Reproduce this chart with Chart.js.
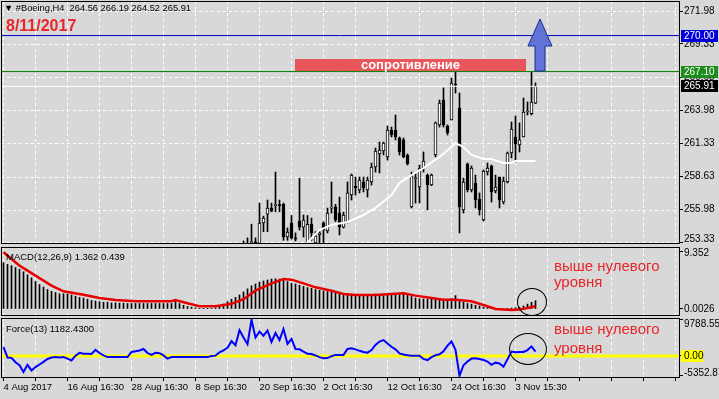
<!DOCTYPE html>
<html>
<head>
<meta charset="utf-8">
<script src="https://cdn.jsdelivr.net/npm/chart.js@4.4.1/dist/chart.umd.min.js"></script>
<style>
  html, body { margin: 0; padding: 0; background: #d8d8d8; }
  #wrap { position: relative; width: 719px; height: 399px; overflow: hidden; background: #d8d8d8;
          font-family: "Liberation Sans", Arial, sans-serif; }
  canvas { position: absolute; left: 0; }
  .t { position: absolute; white-space: pre; line-height: 1; color: #000; }
  .red { color: #e8262b; }
  .note { position: absolute; color: #e8262b; font-size: 15px; white-space: pre; }
  .ring { position: absolute; box-sizing: border-box; border: 1px solid #000; border-radius: 50%; }
  #res { position: absolute; left: 295px; top: 59px; width: 231px; height: 12px; background: #e8565c;
         color: #fff; font-weight: bold; font-size: 13px; line-height: 12px; text-align: center; }
</style>
</head>
<body>
<div id="wrap">
  <canvas id="cMain" width="719" height="246" style="top:0"></canvas>
  <canvas id="cMacd" width="719" height="73" style="top:245px"></canvas>
  <canvas id="cForce" width="719" height="82" style="top:317px"></canvas>

  <div class="t" style="left:4px;top:4px;font-size:9.3px">▼ #Boeing,H4  264.56 266.19 264.52 265.91</div>
  <div class="t red" style="left:6px;top:18px;font-size:16px;font-weight:bold">8/11/2017</div>
  <div id="res">сопротивление</div>
  <svg width="719" height="399" style="position:absolute;left:0;top:0">
    <polygon points="540,19 528,46 535,46 535,71 545,71 545,46 552,46" fill="#6172d8" stroke="#1f2d8c" stroke-width="1"/>
  </svg>

  <div class="t" style="left:6px;top:252px;font-size:9.5px">MACD(12,26,9) 1.362 0.439</div>
  <div class="note" style="left:554px;top:258px;line-height:16px">выше нулевого
уровня</div>
  <div class="ring" style="left:517px;top:288px;width:30px;height:28px"></div>

  <div class="t" style="left:6px;top:324px;font-size:9.5px">Force(13) 1182.4300</div>
  <div class="note" style="left:554px;top:319px;line-height:19px">выше нулевого
уровня</div>
  <div class="ring" style="left:509px;top:333px;width:38px;height:32px"></div>
</div>

<script>
// ---- data (bar index 0 = 4 Aug 2017, 2 bars per day) ----
const xTickLabels = ['4 Aug 2017', '16 Aug 16:30', '28 Aug 16:30', '8 Sep 16:30', '20 Sep 16:30',
                     '2 Oct 16:30', '12 Oct 16:30', '24 Oct 16:30', '3 Nov 15:30'];

// candles visible in the price window start at bar 60 (earlier ones sit below 253.2)
const candleFirstBar = 60;
const candleOpen = [253.05, 253.20, 253.30, 253.35, 253.25, 254.90, 255.60, 256.10, 256.30, 256.35,
  256.40, 253.77, 254.90, 253.70, 255.06, 254.57, 253.30, 254.80, 253.30, 253.95,
  254.90, 254.25, 256.10, 256.20, 255.70, 254.57, 254.98, 257.15, 257.85, 257.56,
  258.20, 257.56, 258.20, 259.41, 260.46, 260.70, 260.22, 262.39, 262.39, 261.75,
  261.59, 260.38, 256.19, 258.45, 257.80, 259.33, 258.76, 257.96, 260.38, 262.80,
  264.81, 262.71, 263.20, 266.10, 264.16, 255.95, 259.65, 257.56, 258.12, 256.83,
  255.14, 259.01, 259.49, 257.48, 258.60, 256.59, 258.20, 260.54, 261.83, 261.18,
  261.83, 263.84, 263.70, 264.56];
const candleHigh = [253.45, 253.70, 254.80, 253.70, 256.50, 255.45, 256.75, 256.50, 259.00, 256.75,
  256.50, 254.50, 255.50, 254.10, 258.50, 255.54, 255.50, 255.30, 254.20, 254.25,
  255.00, 256.10, 258.20, 256.40, 256.99, 255.78, 258.20, 258.85, 258.60, 258.60,
  258.60, 258.60, 259.73, 260.94, 261.42, 261.42, 262.71, 262.63, 263.60, 261.83,
  261.75, 260.46, 259.00, 258.93, 259.57, 260.62, 258.85, 258.85, 263.04, 264.81,
  265.78, 262.80, 266.58, 267.06, 265.37, 258.52, 259.73, 259.49, 258.76, 257.32,
  259.17, 259.73, 259.57, 258.76, 258.60, 258.60, 260.62, 263.04, 263.52, 262.96,
  264.97, 264.65, 267.06, 266.19];
const candleLow = [252.70, 252.90, 252.90, 253.00, 252.90, 254.20, 254.20, 255.80, 255.80, 255.80,
  253.50, 253.50, 253.60, 253.45, 254.33, 253.77, 253.20, 253.50, 253.20, 253.30,
  253.30, 254.10, 255.70, 255.00, 253.93, 254.49, 254.90, 256.75, 257.15, 257.32,
  257.40, 256.99, 257.96, 259.00, 258.93, 260.38, 259.97, 261.83, 261.59, 260.38,
  260.14, 259.57, 256.11, 256.50, 256.51, 259.01, 255.95, 257.90, 260.22, 262.63,
  262.63, 261.99, 263.20, 265.37, 254.09, 255.70, 257.40, 257.40, 256.11, 255.54,
  255.06, 258.76, 256.59, 257.32, 256.11, 256.43, 258.12, 260.14, 259.81, 260.62,
  261.83, 263.60, 263.60, 264.52];
const candleClose = [253.15, 253.10, 253.40, 253.30, 254.90, 255.30, 256.10, 255.85, 256.35, 256.30,
  253.77, 254.17, 253.70, 253.60, 254.57, 255.14, 254.80, 254.10, 253.85, 254.10,
  254.33, 255.70, 256.15, 255.14, 254.57, 255.54, 257.32, 258.76, 257.75, 258.36,
  257.72, 258.36, 259.41, 260.70, 260.78, 261.34, 262.39, 261.99, 261.83, 260.62,
  260.22, 259.65, 258.70, 258.55, 259.33, 259.89, 257.96, 258.76, 262.96, 264.57,
  262.80, 262.15, 266.18, 266.02, 256.19, 258.20, 257.56, 259.33, 256.75, 255.95,
  259.09, 259.33, 257.40, 257.80, 256.75, 258.28, 260.54, 262.47, 261.26, 261.59,
  263.84, 263.90, 264.65, 265.91];

// white moving average, read at the bars where it bends
const maBars   = [75, 79, 82, 86, 90, 93, 97, 99, 102, 105, 109, 112, 113, 115, 117, 120, 122, 125, 127, 128, 133];
const maValues = [253.0, 254.33, 254.74, 254.98, 255.54, 256.11, 257.15, 258.12, 258.76, 259.33, 260.22,
                  261.02, 261.34, 261.02, 260.38, 260.05, 260.05, 259.73, 259.73, 259.89, 259.89];

const priceTicks = [253.33, 255.98, 258.63, 261.33, 263.98, 266.65, 269.33, 271.98];
const targetLevel = 270.00;
const resistanceLevel = 267.10;
const lastPrice = 265.91;

// MACD(12,26,9): histogram per bar and signal line
const macdHist = [7.6, 7.3, 7.1, 6.8, 6.5, 6.1, 5.6, 5.1, 4.5, 4.0,
  3.6, 3.2, 2.9, 2.7, 2.5, 2.5, 2.45, 2.3, 2.1, 1.9,
  1.8, 1.6, 1.4, 1.3, 1.2, 1.1, 1.1, 1.0, 1.0, 0.95,
  0.95, 0.9, 0.9, 0.9, 0.9, 0.9, 0.9, 0.9, 0.9, 0.9, 0.9,
  0.9, 0.9, 1.4, 0.9, 0.6, 0.4, 0.3, 0.2, 0.1, 0.05,
  0.05, 0.1, 0.2, 0.5, 0.8, 1.2, 1.6, 1.9, 2.3, 2.8,
  3.3, 3.8, 4.1, 4.4, 4.6, 4.75, 4.9, 4.95, 4.9, 4.7,
  4.5, 4.2, 4.1, 3.9, 3.7, 3.5, 3.4, 3.2, 3.05, 2.95,
  2.85, 2.73, 2.6, 2.55, 2.5, 2.45, 2.4, 2.4, 2.35, 2.4,
  2.4, 2.4, 2.45, 2.4, 2.4, 2.45, 2.45, 2.55, 2.5, 2.45,
  2.3, 2.05, 1.8, 1.65, 1.64, 1.64, 1.6, 1.6, 1.6, 1.6,
  1.6, 1.7, 2.2, 1.5, 1.1, 0.9, 0.8, 0.6, 0.5, 0.3,
  0.2, 0.1, 0.05, 0.0, 0.0, 0.05, 0.15, 0.2, 0.3, 0.5,
  0.8, 1.1, 1.362];
const signalBars   = [0, 4, 8, 12, 15, 20, 24, 28, 33, 42, 43, 46, 49, 53, 57, 60, 63, 67, 70, 72,
                      75, 78, 82, 85, 88, 93, 97, 100, 103, 107, 110, 113, 117, 120, 123, 127, 129, 131, 133];
const signalValues = [9.3, 7.1, 5.46, 3.83, 2.9, 2.35, 1.8, 1.48, 1.26, 1.26, 1.48, 0.93, 0.44, 0.44, 0.85,
                      1.6, 3.0, 4.2, 4.92, 4.81, 4.2, 3.55, 3.0, 2.46, 2.3, 2.3, 2.46, 2.57, 2.19, 1.8,
                      1.53, 1.53, 1.26, 0.66, 0.0, -0.16, -0.1, 0.16, 0.44];
const macdTicks = [0, 9.352];
const macdTickText = ['0.0026', '9.352'];

// Force(13) per bar
const forceValues = [2400, -400, -500, -1700, -2500, -4300, -2400, -3900, -3000, -2300,
  -1600, -800, -400, -300, -400, -300, -700, -1200, 100, 850,
  600, 600, 550, 1650, 800, 150, -300, -300, -300, -300,
  -300, -300, 1100, 1300, 1500, 1900, 800, 300, 850, 750,
  150, -700, -300, -300, -300, -300, -300, -300, -300, -300, -300,
  -300, 0, 100, 1000, 1500, 2200, 4000, 2900, 7000, 5000,
  3200, 9788, 5000, 6600, 5500, 6900, 3800, 6200, 4300, 7300,
  3300, 4600, 1900, 1800, 1200, 600, 550, 150, -300, -600,
  -550, -50, 300, 300, 300, 1900, 2100, 1800, 1400, 1100,
  900, 1600, 3000, 3900, 4300, 3400, 2500, 1800, 700, 400,
  200, 100, 100, 100, -800, -1100, -300, 200, 450, 1300,
  2800, 3900, 1700, -5353, -2500, -1500, -700, -600, -800, -1100,
  -1500, -2400, -1800, -2000, -2900, -900, 1200, 1000, 1100, 1100,
  1600, 2600, 1182.43];
const forceLevel = 0;
const forceTicks = [-5352.87, 0, 9788.555];
const forceTickText = ['-5352.87', '0.00', '9788.555'];

// ---- layout ----
const X_MIN = -0.625, X_MAX = 169.125;   // 4 px per bar
const gridBars = [];
for (let k = 0; k * 8 <= X_MAX; k++) gridBars.push(k * 8);
const FONT = '"Liberation Sans", Arial, sans-serif';

// dashed white grid like the terminal draws it
const dashGrid = {
  id: 'dashGrid',
  beforeDatasetsDraw(chart, args, o) {
    const { ctx, chartArea: a } = chart;
    const { x, y } = chart.scales;
    ctx.save();
    ctx.strokeStyle = '#ffffff';
    ctx.lineWidth = 1;
    ctx.setLineDash([3, 3]);
    ctx.beginPath();
    gridBars.forEach(b => {
      const px = Math.floor(x.getPixelForValue(b)) + 0.5;
      ctx.moveTo(px, a.top);
      ctx.lineTo(px, a.bottom);
    });
    (o.rows || []).forEach(v => {
      const py = Math.round(y.getPixelForValue(v)) + 0.5;
      ctx.moveTo(a.left, py);
      ctx.lineTo(a.right, py);
    });
    ctx.stroke();
    ctx.restore();
  }
};

// right-hand price labels, boxes and the black panel frame
const mt4Axis = {
  id: 'mt4Axis',
  afterDraw(chart, args, o) {
    const { ctx, chartArea: a } = chart;
    const y = chart.scales.y;
    ctx.save();
    ctx.strokeStyle = '#000';
    ctx.lineWidth = 1;
    ctx.strokeRect(a.left + 0.5, a.top + 0.5, a.right - a.left - 1, a.bottom - a.top - 1);
    ctx.font = '10px ' + FONT;
    ctx.textBaseline = 'middle';
    ctx.fillStyle = '#000';
    o.values.forEach((v, k) => {
      const py = Math.min(Math.max(y.getPixelForValue(v), a.top + 6), a.bottom - 5);
      ctx.fillText(o.texts[k], a.right + 4, py);
    });
    (o.boxes || []).forEach(b => {
      const py = Math.round(y.getPixelForValue(b.value));
      ctx.fillStyle = b.bg;
      ctx.fillRect(a.right + 1, py - 6, b.width, 12);
      ctx.fillStyle = b.fg;
      ctx.fillText(b.text, a.right + 4, py + 0.5);
    });
    ctx.restore();
  }
};

function timeAxis(withLabels) {
  return {
    type: 'linear', min: X_MIN, max: X_MAX, offset: false,
    afterBuildTicks: s => { s.ticks = gridBars.map(v => ({ value: v })); },
    afterFit: s => { s.height = withLabels ? 21 : 0; },
    grid: { drawOnChartArea: false, drawTicks: withLabels, tickLength: 3, tickColor: '#000', tickBorderDash: [] },
    border: { display: false },
    ticks: {
      display: withLabels, autoSkip: false, maxRotation: 0, minRotation: 0, align: 'start', padding: 1,
      color: '#000', font: { family: 'Liberation Sans', size: 9.5 },
      callback: (v, idx) => (idx % 2 === 0 && xTickLabels[idx / 2]) || ''
    }
  };
}

function valueAxis(min, max, ticks) {
  return {
    position: 'right', min, max,
    afterBuildTicks: s => { s.ticks = ticks.map(v => ({ value: v })); },
    afterFit: s => { s.width = 39; },
    grid: { drawOnChartArea: false, tickLength: 3, tickColor: '#000', tickBorderDash: [] },
    border: { display: false },
    ticks: { display: false }
  };
}

const baseOptions = padding => ({
  responsive: false, animation: false, events: [],
  layout: { padding }
});

const flat = v => [{ x: X_MIN, y: v }, { x: X_MAX, y: v }];
const lineStyle = (color, width, order) => ({ type: 'line', borderColor: color, borderWidth: width,
  pointRadius: 0, order, clip: 0 });

// ---- price panel ----
const candleBars = candleOpen.map((o, k) => candleFirstBar + k);
new Chart(document.getElementById('cMain'), {
  type: 'bar',
  data: {
    datasets: [
      { ...lineStyle('#ffffff', 1, 0), data: flat(lastPrice) },
      { ...lineStyle('#0000d0', 1, 0), data: flat(targetLevel) },
      { ...lineStyle('#008000', 1, 0), data: flat(resistanceLevel) },
      { ...lineStyle('#ffffff', 2, 1), data: maBars.map((b, k) => ({ x: b, y: maValues[k] })) },
      {
        data: candleBars.map((b, k) => ({ x: b, y: [candleOpen[k], candleClose[k]] })),
        backgroundColor: candleOpen.map((o, k) => candleClose[k] >= o ? '#ffffff' : '#000000'),
        borderColor: '#000', borderWidth: 1, borderSkipped: false, barThickness: 3, minBarLength: 1,
        grouped: false, order: 2, clip: 0
      },
      {
        data: candleBars.map((b, k) => ({ x: b, y: [candleLow[k], candleHigh[k]] })),
        backgroundColor: '#000', barThickness: 1, grouped: false, order: 3, clip: 0
      }
    ]
  },
  options: {
    ...baseOptions({ top: 1, bottom: 2, left: 1, right: 0 }),
    scales: { x: timeAxis(false), y: valueAxis(253.205, 272.786, priceTicks) },
    plugins: {
      legend: { display: false }, tooltip: { enabled: false },
      dashGrid: { rows: priceTicks },
      mt4Axis: {
        values: priceTicks, texts: priceTicks.map(v => v.toFixed(2)),
        boxes: [
          { value: targetLevel, text: targetLevel.toFixed(2), bg: '#0000dd', fg: '#fff', width: 37 },
          { value: resistanceLevel, text: resistanceLevel.toFixed(2), bg: '#1c8c1c', fg: '#fff', width: 37 },
          { value: lastPrice, text: lastPrice.toFixed(2), bg: '#000', fg: '#fff', width: 37 }
        ]
      }
    }
  },
  plugins: [dashGrid, mt4Axis]
});

// ---- MACD panel ----
new Chart(document.getElementById('cMacd'), {
  type: 'bar',
  data: {
    datasets: [
      { ...lineStyle('#e60000', 2.5, 0), data: signalBars.map((b, k) => ({ x: b, y: signalValues[k] })) },
      {
        data: macdHist.map((v, i) => ({ x: i, y: v })),
        backgroundColor: '#000', barThickness: 1, grouped: false, order: 1, clip: 0
      }
    ]
  },
  options: {
    ...baseOptions({ top: 2, bottom: 2, left: 1, right: 0 }),
    scales: { x: timeAxis(false), y: valueAxis(-1.148, 10.16, macdTicks) },
    plugins: {
      legend: { display: false }, tooltip: { enabled: false },
      dashGrid: { rows: [] },
      mt4Axis: { values: macdTicks, texts: macdTickText }
    }
  },
  plugins: [dashGrid, mt4Axis]
});

// ---- Force panel ----
new Chart(document.getElementById('cForce'), {
  type: 'line',
  data: {
    datasets: [
      { ...lineStyle('#0000ff', 2, 0), data: forceValues.map((v, i) => ({ x: i, y: v })) },
      { ...lineStyle('#ffff00', 3, 1), data: flat(forceLevel) }
    ]
  },
  options: {
    ...baseOptions({ top: 1, bottom: 0, left: 1, right: 0 }),
    scales: { x: timeAxis(true), y: valueAxis(-5949, 10275, forceTicks) },
    plugins: {
      legend: { display: false }, tooltip: { enabled: false },
      dashGrid: { rows: [] },
      mt4Axis: {
        values: forceTicks, texts: forceTickText,
        boxes: [{ value: forceLevel, text: forceLevel.toFixed(2), bg: '#ffff00', fg: '#000', width: 22 }]
      }
    }
  },
  plugins: [dashGrid, mt4Axis]
});
</script>
</body>
</html>
